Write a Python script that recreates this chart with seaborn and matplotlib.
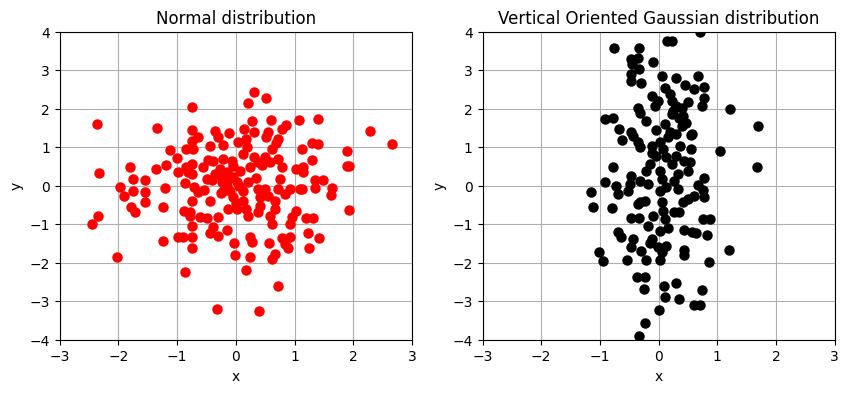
import numpy as np
import pandas as pd
import seaborn as sns
import matplotlib
matplotlib.use('Agg')
import matplotlib.pyplot as plt

# values
normal_x = [-2.36, -1.34, -0.74, -0.74, -1.12, -1.01, -0.85, -0.75, -2.33, -1.81, -1.36, -1.19, -0.98, -0.85, -0.81,
            -1.75, -1.55, 0.30, 0.51, 0.21, 0.27, 0.60, 0.86, 0.78, 1.08, -0.64, -0.36, -0.30, -0.11, 0.14,
            0.31, 0.55, 0.52, 0.72, 0.68, 0.18, 0.04, -0.44, -0.22, 0.19, -0.73, 0.61, 1.12, 0.12, -0.47,
            -0.39, -0.22, -0.07, 0.30, 0.49, 0.72, 0.58, 0.38, -0.75, -0.56, -0.27, -0.16, 0.07, 0.24, 0.78,
            1.03, 1.15, -0.50, -0.24, -0.05, 0.75, -0.75, 1.40, 2.28, 2.65, 1.29, 1.40, 1.89, 1.29, 1.89,
            1.93, 1.15, 1.35, 1.49, -1.98, -1.75, -1.54, -1.90, -1.20, -1.54, -1.78, -1.72, -1.24, -2.35, -2.45,
            -1.24, -2.02, -0.87, -0.98, -0.90, -0.74, -0.75, -0.75, -0.89, -0.78, -0.75, -0.87, -0.71, -0.78, -0.64,
            -0.44, -0.24, -0.13, 0.01, -0.22, -0.10, 0.12, -0.05, 0.12, -0.13, 0.01, 0.18, 0.21, 0.38, 0.49,
            0.41, 0.55, 0.41, 0.38, 0.58, 0.72, 0.92, 1.09, 0.83, 0.66, 0.66, 1.02, 0.95, 0.92, 0.61,
            -0.61, -0.49, -0.30, -0.39, -0.44, -0.30, -0.16, -0.03, 0.24, 0.27, -0.01, 0.24, 0.57, 0.66, 0.62,
            0.78, 0.92, 0.83, 0.89, 0.18, 0.72, -0.32, 0.39, 1.12, 1.35, 1.64, 1.62, 1.93, 1.20, 1.31,
            1.23, 1.42, 1.25, -0.15, 0.05, -0.25, 0.20, 0.35, -0.40, -0.05, 0.45, 0.00, -0.55, -0.35]
normal_y = [1.60, 1.50, 2.05, 1.45, 0.93, 0.71, 0.95, 1.17, 0.32, 0.49, 0.44, 0.54, 0.36, 0.49, 0.35,
            0.17, 0.15, 2.44, 2.28, 2.14, 1.69, 1.71, 1.58, 1.47, 1.71, 1.26, 1.41, 1.26, 1.36, 1.47,
            1.39, 1.39, 1.27, 1.21, 1.10, 1.21, 1.13, 1.04, 1.06, 1.01, 0.95, 0.95, 0.95, 0.82, 0.67,
            0.65, 0.69, 0.63, 0.74, 0.75, 0.69, 0.61, 0.61, 0.56, 0.48, 0.43, 0.35, 0.39, 0.48, 0.48,
            0.43, 0.48, 0.17, 0.22, 0.22, 0.17, 0.30, 1.73, 1.43, 1.08, 1.11, 1.08, 0.91, 0.67, 0.52,
            0.52, 0.35, 0.15, 0.15, -0.04, -0.13, -0.17, -0.26, -0.06, -0.42, -0.56, -0.68, -0.55, -0.78, -1.00,
            -1.43, -1.86, -2.25, -1.34, -1.34, -1.34, -1.63, -1.04, -0.65, -0.68, -0.39, 0.07, -0.04, -0.78, -0.17,
            -0.39, 0.09, 0.17, 0.09, -0.13, -0.13, -0.13, -0.30, -0.39, -0.61, -0.61, -0.61, -0.78, -0.09, -0.09,
            -0.30, -0.26, -0.52, -0.68, -0.78, -0.09, -0.09, -0.09, -0.22, -0.39, -0.61, -0.65, -0.82, -1.00, -1.00,
            -0.82, -0.85, -0.82, -1.06, -1.23, -1.30, -1.14, -1.49, -1.32, -1.47, -1.80, -1.84, -1.49, -1.77, -1.90,
            -1.37, -1.34, -1.51, -1.63, -2.19, -2.60, -3.20, -3.25, -0.09, -0.07, -0.06, -0.24, -0.62, -0.84, -0.84,
            -1.23, -1.36, -1.62, 0.00, 0.00, -0.20, 0.10, 0.20, 0.15, 0.50, 0.55, -0.45, -0.10, 0.30]

vertical_x = [0.15, 0.22, -0.76, -0.34, -0.47, -0.35, -0.45, -0.10, -0.34, -0.47, -0.47, -0.30, 0.05, 0.30, 0.10,
              -0.12, -0.01, 0.19, 0.22, -0.07, 0.30, -0.35, -0.32, -0.21, 0.22, -0.92, -0.78, -0.68, -0.47, 0.19,
              0.70, 0.67, 0.45, 0.60, 0.78, 0.78, 0.74, 0.50, 0.39, 0.41, 0.47, 0.56, 1.21, 1.69,
              -0.62, -0.44, -0.35, -0.32, -0.12, -0.12, 0.02, 0.07, 0.16, 0.13, 0.22, -0.04, -0.15, -0.21, -0.78,
              -0.47, -0.32, -0.49, -0.18, 0.02, 0.05, 0.13, 0.27, 0.02, -0.92, -0.72, -1.15, -0.69, -0.52, -0.32,
              -0.24, -0.35, 0.05, 0.07, 0.27, -1.11, -0.80, -0.47, -0.34, -0.09, 0.10, -0.18, 0.02, 0.16, -0.69,
              -0.64, -0.44, -0.12, 0.55, 0.36, 0.55, 1.05, 0.30, 0.44, 0.53, 0.50, 0.33, 1.68, 0.77, 0.67,
              0.33, 0.75, 0.78, 0.61, 0.50, 0.41, 0.34, 0.75, 0.87, 0.43, 0.56, 0.63, 0.82, -0.47, -0.30,
              -0.15, -0.01, 0.13, 0.05, -1.02, -0.94, -0.54, -0.22, 0.02, -0.37, -0.24, -0.25, 0.09, 0.29, 0.10,
              0.35, 0.00, -0.23, -0.34, 0.43, 0.43, 1.20, 0.86, 0.73, 0.61, 0.71, 0.25, 0.35, 0.40, 0.30,
              0.10, -0.05]
vertical_y = [3.77, 3.77, 3.59, 3.59, 3.29, 3.31, 3.16, 3.22, 3.03, 2.90, 2.73, 2.68, 2.86, 2.81, 2.53,
              2.34, 2.21, 2.38, 2.21, 2.08, 2.08, 2.03, 1.90, 1.69, 1.86, 1.73, 1.75, 1.48, 1.40, 1.40,
              3.98, 2.84, 2.62, 2.51, 2.57, 2.27, 2.08, 2.18, 2.03, 1.82, 1.64, 1.34, 1.99, 1.56,
              1.19, 1.30, 1.13, 1.00, 1.04, 0.86, 1.13, 0.95, 1.26, 0.74, 0.56, 0.78, 0.56, 0.39, 0.49,
              0.26, 0.13, 0.04, 0.04, 0.39, 0.17, -0.04, 0.13, -0.13, 0.09, 0.00, -0.17, -0.22, -0.13, -0.43,
              -0.39, -0.48, -0.43, -0.65, -0.69, -0.55, -0.58, -0.84, -0.85, -0.78, -0.87, -1.04, -1.17, -1.10, -1.21,
              -1.34, -1.38, -1.38, 1.32, 1.04, 0.95, 0.91, 0.78, 0.65, 0.61, 0.39, 0.30, 0.48, 0.19, 0.03,
              -0.09, -0.11, -0.30, -0.26, -0.35, -0.43, -0.69, -0.87, -0.87, -1.15, -1.19, -1.24, -1.28, -1.60, -1.69,
              -1.49, -1.60, -1.56, -1.73, -1.71, -1.95, -1.92, -1.92, -1.92, -2.36, -2.38, -2.67, -2.60, -2.53, -2.90,
              -2.93, -3.22, -3.57, -3.90, -1.66, -1.80, -1.67, -1.97, -2.70, -3.10, -3.10, 1.95, 1.75, 1.55, 1.35,
              1.60, 1.45]

df_normal = pd.DataFrame({'x': normal_x, 'y': normal_y})
df_vertical = pd.DataFrame({'x': vertical_x, 'y': vertical_y})

fig, axes = plt.subplots(1, 2, figsize=(10, 4))

panels = [(axes[0], df_normal, 'red', 'Normal distribution'),
          (axes[1], df_vertical, 'black', 'Vertical Oriented Gaussian distribution')]

for ax, df, col, title in panels:
    sns.scatterplot(x='x', y='y', data=df, ax=ax, color=col, edgecolor=col,
                    s=36, linewidth=1.5, zorder=3)
    ax.set_xlim(-3, 3)
    ax.set_ylim(-4, 4)
    ax.set_axisbelow(True)
    ax.grid(True)
    ax.set_title(title)
    ax.set_xlabel('x')
    ax.set_ylabel('y')

plt.savefig('out.png', dpi=100, bbox_inches='tight')
